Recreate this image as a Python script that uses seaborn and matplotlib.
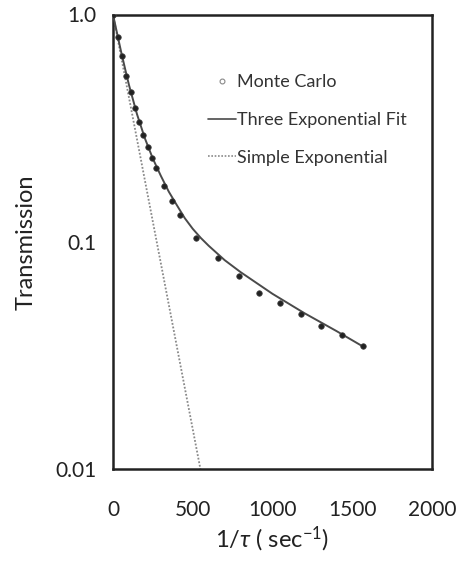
import matplotlib
matplotlib.use("Agg")
import matplotlib.pyplot as plt
import seaborn as sns
import pandas as pd
from matplotlib.lines import Line2D
from matplotlib.ticker import FixedLocator, NullLocator

# Monte Carlo points
mc_x = [0, 33, 58, 83, 110, 135, 162, 190, 217, 242, 268, 319, 369, 421, 523,
        658, 788, 915, 1046, 1179, 1306, 1437, 1565]
mc_t = [1.0, 0.80, 0.655, 0.537, 0.458, 0.388, 0.335, 0.294, 0.26, 0.234, 0.212,
        0.176, 0.151, 0.131, 0.104, 0.0844, 0.0708, 0.0594, 0.0537, 0.048,
        0.0425, 0.0387, 0.0347]

# Three exponential fit
fit_x = [0, 25, 50, 75, 100, 150, 200, 250, 300, 350, 400, 450, 500, 550, 600,
         700, 800, 1000, 1200, 1400, 1570]
fit_t = [1.0, 0.83, 0.69, 0.58, 0.49, 0.365, 0.285, 0.232, 0.195, 0.166, 0.145,
         0.127, 0.114, 0.104, 0.096, 0.083, 0.0735, 0.059, 0.0485, 0.0405, 0.0345]

# Simple exponential (straight on log scale)
se_x = [0, 548]
se_t = [1.0, 0.01]

x_ticks = [0, 500, 1000, 1500, 2000]
y_ticks = [0.01, 0.1, 1.0]
y_tick_labels = ["0.01", "0.1", "1.0"]

sns.set_style("white")
plt.rcParams["font.family"] = ["Lato", "DejaVu Sans"]
plt.rcParams["mathtext.fontset"] = "custom"
plt.rcParams["mathtext.rm"] = "Lato"
plt.rcParams["mathtext.it"] = "Lato:italic"

fig = plt.figure(figsize=(4.58, 5.63), dpi=100)
ax = fig.add_axes([113 / 458, 1 - 469 / 563, (432 - 113) / 458, (469 - 14.5) / 563])

df_mc = pd.DataFrame({"x": mc_x, "t": mc_t})
df_fit = pd.DataFrame({"x": fit_x, "t": fit_t})
df_se = pd.DataFrame({"x": se_x, "t": se_t})

sns.lineplot(data=df_se, x="x", y="t", ax=ax, color="#8a8a8a", lw=1.3,
             linestyle=(0, (1, 1)), zorder=2)
sns.lineplot(data=df_fit, x="x", y="t", ax=ax, color="#4a4a4a", lw=1.4, zorder=3)
sns.scatterplot(data=df_mc, x="x", y="t", ax=ax, color="#222222", s=16,
                edgecolor="#444444", linewidth=0.5, zorder=4)

ax.set_yscale("log")
ax.set_xlim(0, 2000)
ax.set_ylim(0.01, 1.0)
ax.set_xticks(x_ticks)
ax.set_xticklabels([str(v) for v in x_ticks])
ax.yaxis.set_major_locator(FixedLocator(y_ticks))
ax.yaxis.set_minor_locator(NullLocator())
ax.set_yticklabels(y_tick_labels)
ax.tick_params(axis="both", which="major", direction="out", length=3, width=0.8,
               color="#aaaaaa", labelsize=15, labelcolor="#222222")
ax.tick_params(axis="x", pad=19)
ax.tick_params(axis="y", pad=9)

for s in ax.spines.values():
    s.set_visible(True)
    s.set_color("#222222")
    s.set_linewidth(1.8)

ax.set_xlabel(r"$1/\tau$ ( sec$^{-1}$)", fontsize=17, color="#222222", labelpad=4)
ax.set_ylabel("Transmission", fontsize=17, color="#222222", labelpad=13)

handles = [
    Line2D([], [], color="none", marker="o", markersize=3.5, markerfacecolor="white",
           markeredgecolor="#888888", markeredgewidth=0.8),
    Line2D([], [], color="#4a4a4a", lw=1.2),
    Line2D([], [], color="#8a8a8a", lw=1.2, linestyle=(0, (1, 1))),
]
labels = ["Monte Carlo", "Three Exponential Fit", "Simple Exponential"]
leg = ax.legend(handles, labels, loc="upper left", bbox_to_anchor=(0.27, 0.888),
                frameon=False, fontsize=13, handlelength=1.55, handletextpad=0.05,
                labelspacing=1.2, borderpad=0)
for t in leg.get_texts():
    t.set_color("#333333")

fig.savefig("out.png", dpi=100)
